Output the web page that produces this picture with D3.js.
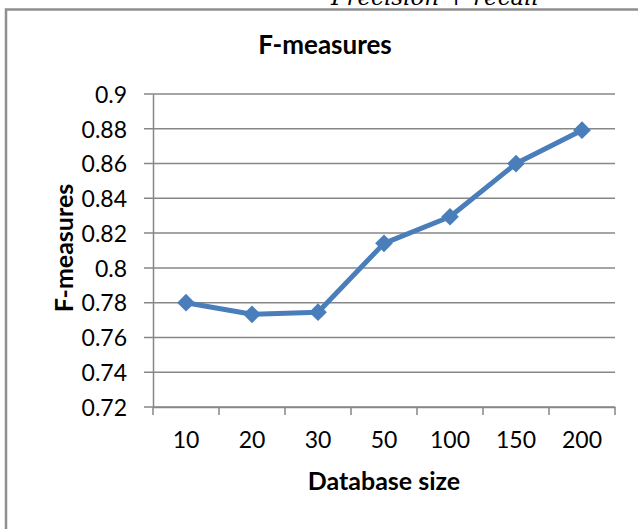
<!DOCTYPE html>
<html lang="en">
<head>
  <meta charset="UTF-8" />
  <title>F-measures</title>
  <script src="https://d3js.org/d3.v7.min.js"></script>
  <style>
    body { margin: 0; padding: 0; background: #ffffff; overflow: hidden; }
    svg { display: block; }
    text { font-family: Lato, "Open Sans", sans-serif; fill: #000; }
  </style>
</head>
<body>
  <div id="chart"></div>
  <script>
    // Data
    const categories = ["10", "20", "30", "50", "100", "150", "200"];
    const fValues = [0.780, 0.7733, 0.7745, 0.8141, 0.8294, 0.8600, 0.8792];
    const yTicks = [0.72, 0.74, 0.76, 0.78, 0.8, 0.82, 0.84, 0.86, 0.88, 0.9];

    const width = 638, height = 529;
    const plot = { left: 153, right: 615, top: 94, bottom: 407 };
    const gridColor = "#878787";
    const lineColor = "#4a7ebb";

    const svg = d3.select("#chart").append("svg")
      .attr("width", width)
      .attr("height", height);

    // cut off equation text at the top of the page
    svg.append("text")
      .attr("x", 331)
      .attr("y", 5)
      .style("font-family", "'DejaVu Serif', 'Liberation Serif', serif")
      .style("font-style", "italic")
      .style("font-size", "23px")
      .text("Precision + recall");

    // chart frame
    svg.append("rect")
      .attr("x", 6)
      .attr("y", 9.5)
      .attr("width", 700)
      .attr("height", 600)
      .attr("fill", "none")
      .attr("stroke", "#8f8f8f")
      .attr("stroke-width", 2.5);

    const x = d3.scaleBand()
      .domain(categories)
      .range([plot.left, plot.right]);

    const y = d3.scaleLinear()
      .domain([0.72, 0.9])
      .range([plot.bottom, plot.top]);

    // gridlines (with the small tick stubs left of the axis)
    svg.append("g")
      .selectAll("line")
      .data(yTicks)
      .enter()
      .append("line")
      .attr("x1", plot.left - 9)
      .attr("x2", plot.right)
      .attr("y1", d => y(d))
      .attr("y2", d => y(d))
      .attr("stroke", gridColor)
      .attr("stroke-width", 1.5);

    // y axis
    const yAxis = d3.axisLeft(y)
      .tickValues(yTicks)
      .tickSize(0)
      .tickPadding(26)
      .tickFormat(d => String(+d.toFixed(2)));

    const gy = svg.append("g")
      .attr("transform", `translate(${plot.left},0)`)
      .call(yAxis);
    gy.select(".domain").attr("stroke", gridColor).attr("stroke-width", 1.5);
    gy.selectAll("text")
      .style("font-size", "23px")
      .attr("dy", "0.36em")
      .attr("fill", "#000");

    // x axis: labels centred in each band, ticks at band edges
    const xAxis = d3.axisBottom(x).tickSize(0);
    const gx = svg.append("g")
      .attr("transform", `translate(0,${plot.bottom})`)
      .call(xAxis);
    gx.select(".domain").attr("stroke", gridColor).attr("stroke-width", 1.5);
    gx.selectAll("text")
      .style("font-size", "23px")
      .attr("y", 41)
      .attr("dy", 0)
      .attr("fill", "#000");

    const edges = categories.map(c => x(c)).concat([x.range()[1]]);
    svg.append("g")
      .selectAll("line")
      .data(edges)
      .enter()
      .append("line")
      .attr("x1", d => d)
      .attr("x2", d => d)
      .attr("y1", plot.bottom)
      .attr("y2", plot.bottom + 8)
      .attr("stroke", gridColor)
      .attr("stroke-width", 1.5);

    // series line
    const lineGen = d3.line()
      .x((d, i) => x(categories[i]) + x.bandwidth() / 2)
      .y(d => y(d));

    svg.append("path")
      .datum(fValues)
      .attr("fill", "none")
      .attr("stroke", lineColor)
      .attr("stroke-width", 5)
      .attr("stroke-linejoin", "round")
      .attr("d", lineGen);

    // diamond markers
    const diamond = d3.symbol().type(d3.symbolDiamond2).size(200);
    svg.append("g")
      .selectAll("path")
      .data(fValues)
      .enter()
      .append("path")
      .attr("d", diamond)
      .attr("transform", (d, i) =>
        `translate(${x(categories[i]) + x.bandwidth() / 2},${y(d)})`)
      .attr("fill", lineColor);

    // titles
    svg.append("text")
      .attr("x", 325)
      .attr("y", 54)
      .attr("text-anchor", "middle")
      .style("font-size", "26px")
      .style("font-weight", "bold")
      .text("F-measures");

    svg.append("text")
      .attr("transform", `translate(73,248) rotate(-90)`)
      .attr("text-anchor", "middle")
      .style("font-size", "25px")
      .style("font-weight", "bold")
      .text("F-measures");

    svg.append("text")
      .attr("x", 384)
      .attr("y", 490)
      .attr("text-anchor", "middle")
      .style("font-size", "25px")
      .style("font-weight", "bold")
      .text("Database size");
  </script>
</body>
</html>
